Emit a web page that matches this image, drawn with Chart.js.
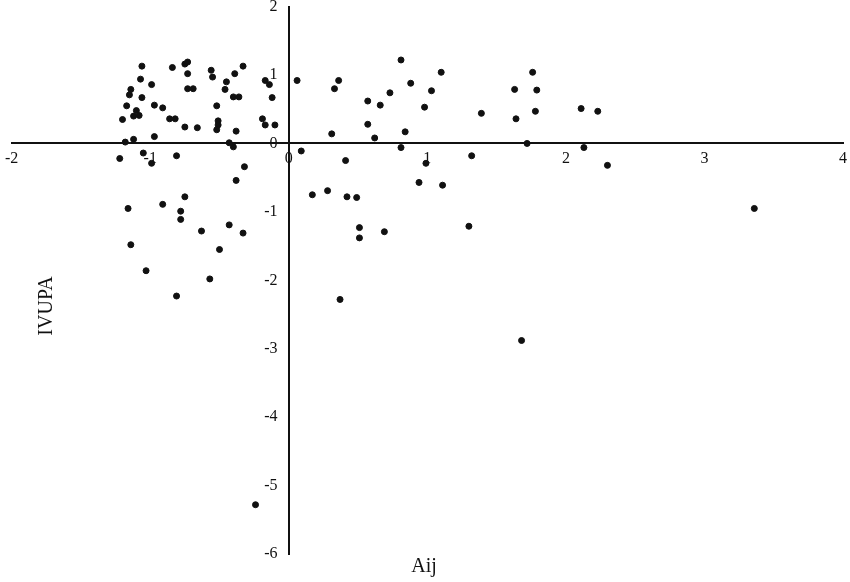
<!DOCTYPE html>
<html>
<head>
<meta charset="utf-8">
<script src="https://cdn.jsdelivr.net/npm/chart.js@4/dist/chart.umd.min.js"></script>
<style>
  html, body { margin: 0; padding: 0; background: #fff; overflow: hidden; width: 850px; height: 582px; }
  /* the crossing axes reserve label room at the edges, so the canvas is a bit larger and shifted */
  #wrap { position: absolute; left: -1px; top: -6px; width: 854px; height: 589px; }
</style>
</head>
<body>
<div id="wrap"><canvas id="chart"></canvas></div>
<script>
// ===== DATA =====
const xTitle = 'Aij';
const yTitle = 'IVUPA';
const xTicks = [-2, -1, 0, 1, 2, 3, 4];
const yTicks = [-6, -5, -4, -3, -2, -1, 0, 1, 2];

const aij = [
  -1.06, -1.07, -0.99, -1.14, -1.15, -1.06, -1.17, -1.10, -1.08, -1.12,
  -1.20, -0.97, -0.91, -0.84, -0.75, -0.73, -0.73, -0.73, -0.69, -0.86,
  -0.82, -0.75, -0.66, -0.56, -0.55, -0.45, -0.46, -0.39, -0.33, -0.40,
  -0.36, -0.52, -0.51, -0.51, -0.52, -0.38, -0.17, -0.14, -0.12, -0.19,
  -0.17, -0.10, -1.18, -1.12, -0.97, -0.43, -0.40, -1.22, -1.05, -0.99,
  -0.81, -0.32, -0.38, -0.75, -0.91, -1.16, -0.78, -0.78, -0.43, -0.63,
  -0.33, -1.14, -0.50, -1.03, -0.57, -0.81, -0.24,
  0.06, 0.09, 0.33, 0.36, 0.57, 0.66, 0.73, 0.81, 0.88, 0.98,
  1.03, 1.10, 0.57, 0.31, 0.62, 0.84, 0.81, 0.41, 0.99, 1.32,
  1.39, 1.63, 1.76, 1.79, 1.78, 1.64, 1.72, 2.11, 2.23, 2.13,
  2.30, 0.94, 1.11, 0.17, 0.28, 0.42, 0.49, 3.36, 0.51, 0.51,
  0.69, 1.30, 0.37, 1.68
];

const ivupa = [
  1.13, 0.94, 0.86, 0.79, 0.71, 0.67, 0.55, 0.48, 0.41, 0.40,
  0.35, 0.56, 0.52, 1.11, 1.16, 1.19, 1.02, 0.80, 0.80, 0.36,
  0.36, 0.24, 0.23, 1.07, 0.97, 0.90, 0.79, 1.02, 1.13, 0.68,
  0.68, 0.55, 0.33, 0.27, 0.20, 0.18, 0.92, 0.86, 0.67, 0.36,
  0.27, 0.27, 0.02, 0.06, 0.10, 0.01, -0.05, -0.22, -0.14, -0.29,
  -0.18, -0.34, -0.54, -0.78, -0.89, -0.95, -0.99, -1.11, -1.19, -1.28,
  -1.31, -1.48, -1.55, -1.86, -1.98, -2.23, -5.28,
  0.92, -0.11, 0.80, 0.92, 0.62, 0.56, 0.74, 1.22, 0.88, 0.53,
  0.77, 1.04, 0.28, 0.14, 0.08, 0.17, -0.06, -0.25, -0.29, -0.18,
  0.44, 0.79, 1.04, 0.78, 0.47, 0.36, 0.00, 0.51, 0.47, -0.06,
  -0.32, -0.57, -0.61, -0.75, -0.69, -0.78, -0.79, -0.95, -1.23, -1.38,
  -1.29, -1.21, -2.28, -2.88
];

const points = aij.map((x, i) => ({ x: x, y: ivupa[i] }));

// ===== AXIS TITLES (far from the crossing axes) =====
const axisTitles = {
  id: 'axisTitles',
  afterDraw(chart) {
    const c = chart.ctx;
    c.save();
    c.fillStyle = '#111';
    c.font = '20px "Liberation Serif", serif';
    c.textAlign = 'center';
    c.textBaseline = 'middle';
    c.fillText(xTitle, 425, 573);
    c.translate(48, 312);
    c.rotate(-Math.PI / 2);
    c.fillText(yTitle, 0, 0);
    c.restore();
  }
};

// ===== CHART =====
const tickFont = { family: '"Liberation Serif", serif', size: 16 };

new Chart(document.getElementById('chart'), {
  type: 'scatter',
  data: {
    datasets: [{
      data: points,
      backgroundColor: '#111',
      borderColor: '#111',
      pointRadius: 3,
      pointHoverRadius: 3
    }]
  },
  options: {
    responsive: true,
    maintainAspectRatio: false,
    animation: false,
    layout: { padding: { left: 11, right: 7, top: 6, bottom: 29 } },
    plugins: { legend: { display: false }, tooltip: { enabled: false } },
    scales: {
      x: {
        type: 'linear',
        position: { y: 0 },
        min: -2, max: 4,
        afterBuildTicks: s => { s.ticks = xTicks.map(v => ({ value: v })); },
        grid: { display: false, drawTicks: false },
        border: { color: '#111', width: 2 },
        ticks: { color: '#111', font: tickFont, padding: 6, maxRotation: 0 }
      },
      y: {
        type: 'linear',
        position: { x: 0 },
        min: -6, max: 2,
        afterBuildTicks: s => { s.ticks = yTicks.map(v => ({ value: v })); },
        grid: { display: false, drawTicks: false },
        border: { color: '#111', width: 2 },
        // labels of a crossing y axis sit flush on the line, so pad with spaces
        ticks: { color: '#111', font: tickFont, callback: v => v + '  \u2009' }
      }
    }
  },
  plugins: [axisTitles]
});
</script>
</body>
</html>
